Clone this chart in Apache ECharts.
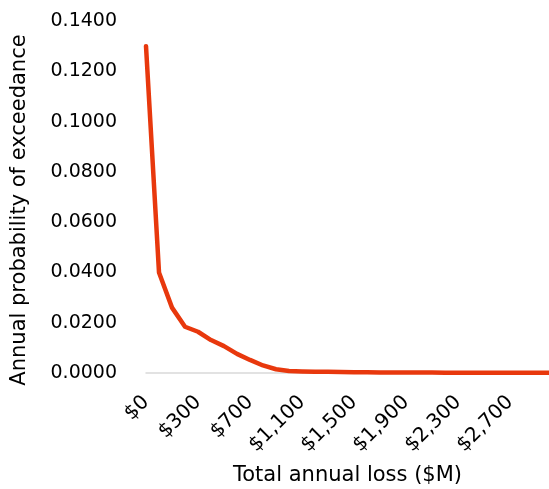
<!DOCTYPE html>
<html>
<head>
<meta charset="utf-8">
<script src="https://cdn.jsdelivr.net/npm/echarts@6/dist/echarts.min.js"></script>
<style>
  html, body { margin: 0; padding: 0; background: #fff; }
  #chart { width: 549px; height: 489px; }
</style>
</head>
<body>
<div id="chart"></div>
<script>
// Loss thresholds ($M) along the exceedance curve
const lossLabels = [
  '$0', '$50', '$100', '$200', '$300', '$400', '$500', '$600', '$700', '$800',
  '$900', '$1,000', '$1,100', '$1,200', '$1,300', '$1,400', '$1,500', '$1,600',
  '$1,700', '$1,800', '$1,900', '$2,000', '$2,100', '$2,200', '$2,300', '$2,400',
  '$2,500', '$2,600', '$2,700', '$2,800', '$2,900', '$3,000'
];

// Annual probability that total loss exceeds each threshold
const exceedanceProb = [
  0.1300, 0.0400, 0.0260, 0.0184, 0.0164, 0.0131, 0.0107, 0.0076, 0.0052, 0.0030,
  0.0015, 0.0008, 0.0006, 0.0005, 0.0005, 0.0004, 0.0003, 0.0003, 0.0002, 0.0002,
  0.0002, 0.0002, 0.0002, 0.0001, 0.0001, 0.0001, 0.0001, 0.0001, 0.0001, 0.0001,
  0.0001, 0.0001
];

const yMin = 0, yMax = 0.14, yStep = 0.02;

const FONT = '"DejaVu Sans", sans-serif';
const chart = echarts.init(document.getElementById('chart'), null, { renderer: 'canvas' });

chart.setOption({
  animation: false,
  backgroundColor: '#ffffff',
  grid: {
    left: 146, right: 0, top: 21, bottom: 116,
    containLabel: false,
    outerBoundsMode: 'none'
  },
  xAxis: {
    type: 'category',
    data: lossLabels,
    boundaryGap: false,
    name: 'Total annual loss ($M)',
    nameLocation: 'middle',
    nameGap: 92,
    nameTextStyle: { fontFamily: FONT, fontSize: 21, color: '#000' },
    axisLine: { show: true, lineStyle: { color: '#d9d9d9', width: 1.5 } },
    axisTick: { show: false },
    axisLabel: {
      interval: 3,
      rotate: 45,
      margin: 26,
      fontFamily: FONT,
      fontSize: 20,
      color: '#000'
    },
    splitLine: { show: false }
  },
  yAxis: {
    type: 'value',
    min: yMin,
    max: yMax,
    interval: yStep,
    name: 'Annual probability of exceedance',
    nameLocation: 'middle',
    nameGap: 116,
    nameTextStyle: {
      fontFamily: FONT, fontSize: 21, color: '#000',
      padding: [0, 26, 0, 0]
    },
    axisLine: { show: false },
    axisTick: { show: false },
    axisLabel: {
      margin: 29,
      fontFamily: FONT,
      fontSize: 19,
      color: '#000',
      formatter: v => v.toFixed(4)
    },
    splitLine: { show: false }
  },
  series: [{
    type: 'line',
    data: exceedanceProb,
    showSymbol: false,
    smooth: false,
    lineStyle: { color: '#E8380D', width: 4.5, cap: 'round', join: 'round' },
    itemStyle: { color: '#E8380D' }
  }]
});
</script>
</body>
</html>
